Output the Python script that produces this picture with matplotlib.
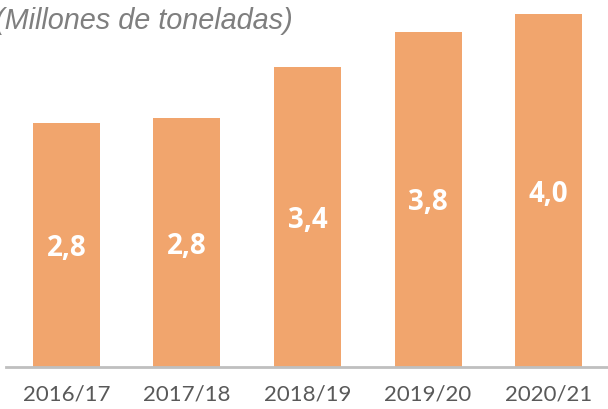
import matplotlib.pyplot as plt

campanas = ["2016/17", "2017/18", "2018/19", "2019/20", "2020/21"]
produccion = [2.76, 2.82, 3.40, 3.80, 4.00]
etiquetas = ["2,8", "2,8", "3,4", "3,8", "4,0"]

fig = plt.figure(figsize=(6.08, 4.10), dpi=100)
ax = fig.add_axes([6 / 608, 42 / 410, 603 / 608, 353 / 410])

x = range(len(campanas))
bars = ax.bar(x, produccion, width=0.555, color="#F1A56D", zorder=2)

# value labels centred inside each bar
for b, txt in zip(bars, etiquetas):
    ax.text(b.get_x() + b.get_width() / 2, b.get_height() / 2 - 0.03, txt,
            ha="center", va="center", color="white", fontsize=20,
            fontweight="bold", family="Open Sans")

ax.set_xlim(-0.5, len(campanas) - 0.5)
ax.set_ylim(0, 4.0)
ax.set_xticks(list(x))
ax.set_xticklabels(campanas, fontsize=16, color="#595959", family="Lato")
ax.tick_params(axis="x", length=0, pad=12)
ax.set_yticks([])

for side in ["top", "right", "left"]:
    ax.spines[side].set_visible(False)
ax.spines["bottom"].set_color("#BFBFBF")
ax.spines["bottom"].set_linewidth(2)
ax.spines["bottom"].set_zorder(3)

fig.text(-0.008, 0.948, "(Millones de toneladas)", ha="left", va="center",
         fontsize=20.8, style="italic", color="#7F7F7F", family="Liberation Sans")

fig.savefig("out.png", dpi=100)
